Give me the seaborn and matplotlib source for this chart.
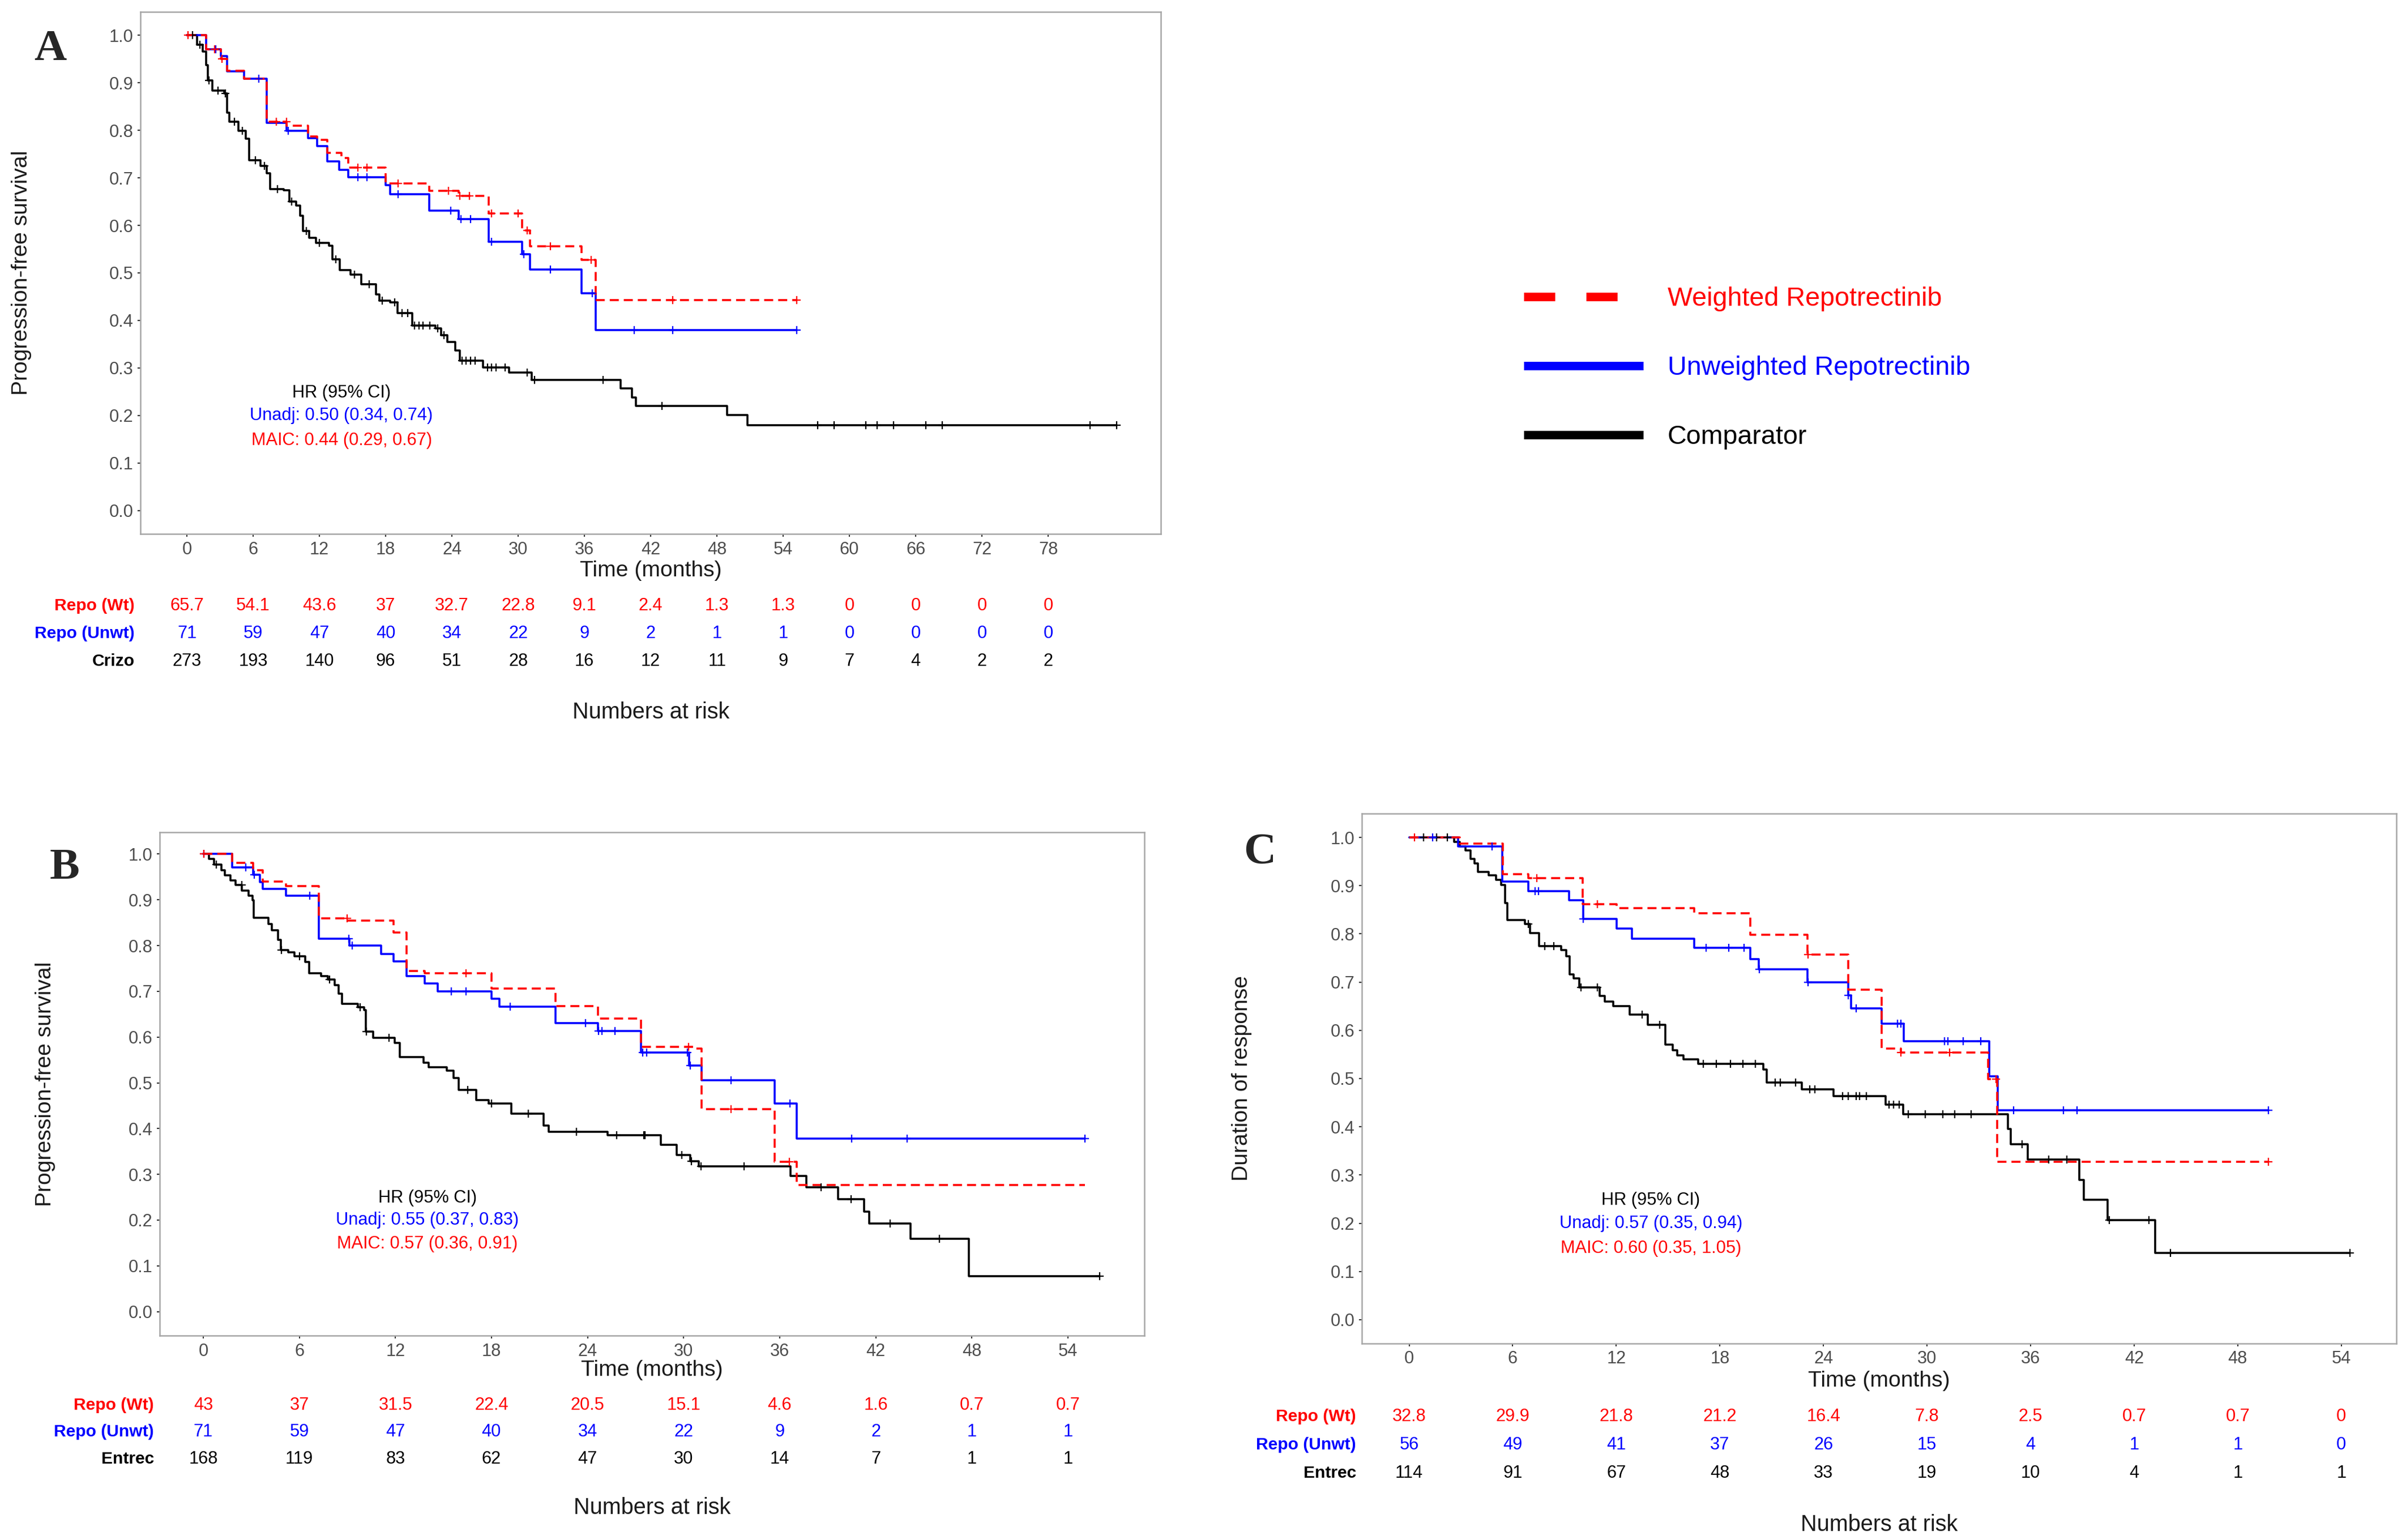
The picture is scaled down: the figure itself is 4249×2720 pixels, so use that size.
import numpy as np
import matplotlib
matplotlib.use("Agg")
import matplotlib.pyplot as plt
import matplotlib.transforms as mtransforms
from matplotlib.lines import Line2D
import seaborn as sns

# ---------------- DATA ----------------
# Panel A (PFS vs crizotinib)
tA_wt = [0, 1.74, 3.05, 3.63, 5.17, 7.23, 9.03, 10.99, 11.81, 12.69, 14.0, 14.62, 17.98, 21.94, 24.62, 27.33, 30.34, 31.09, 35.74, 37.04, 55.2]
sA_wt = [1.0, 0.970, 0.950, 0.925, 0.909, 0.818, 0.810, 0.787, 0.780, 0.752, 0.742, 0.721, 0.688, 0.673, 0.662, 0.625, 0.589, 0.556, 0.527, 0.443, 0.443]
cA_wt = [0.1, 2.5, 3.2, 8.1, 9.0, 15.5, 16.3, 19.1, 23.7, 24.7, 25.6, 27.6, 30.0, 30.8, 32.9, 36.6, 44.0, 55.2]

tA_unw = [0, 1.74, 3.05, 3.63, 5.17, 7.23, 9.03, 10.99, 11.81, 12.69, 13.77, 14.62, 17.98, 18.41, 21.94, 24.62, 27.33, 30.34, 31.09, 35.74, 37.04, 55.2]
sA_unw = [1.0, 0.970, 0.956, 0.924, 0.909, 0.815, 0.799, 0.783, 0.767, 0.734, 0.717, 0.701, 0.684, 0.666, 0.631, 0.613, 0.566, 0.539, 0.507, 0.457, 0.380, 0.380]
cA_unw = [2.6, 6.5, 9.2, 15.5, 16.3, 19.1, 23.9, 24.8, 25.7, 27.6, 30.5, 32.9, 36.7, 40.5, 44.0, 55.2]

tA_cmp = [0, 0.92, 1.41, 1.74, 1.90, 2.33, 3.37, 3.63, 3.86, 4.68, 5.34, 5.66, 6.64, 7.23, 7.56, 8.77, 9.26, 9.91, 10.24, 10.50,
          11.06, 11.71, 12.85, 13.18, 13.83, 14.81, 15.80, 17.10, 17.43, 18.41, 19.06, 20.40, 22.53, 23.0, 23.59, 24.3, 24.71,
          26.83, 29.18, 31.24, 39.3, 40.3, 40.66, 48.9, 50.78, 84.2]
sA_cmp = [1.0, 0.980, 0.965, 0.937, 0.905, 0.884, 0.878, 0.837, 0.818, 0.799, 0.782, 0.737, 0.725, 0.710, 0.676, 0.674, 0.650, 0.642, 0.620, 0.588,
          0.574, 0.563, 0.557, 0.529, 0.506, 0.497, 0.476, 0.455, 0.442, 0.438, 0.416, 0.389, 0.383, 0.369, 0.355, 0.337, 0.316,
          0.301, 0.290, 0.275, 0.257, 0.238, 0.220, 0.201, 0.180, 0.180]
cA_cmp = [0.5, 1.2, 2.0, 2.8, 3.5, 4.3, 5.0, 6.2, 7.0, 8.2, 9.5, 10.8, 12.0, 13.5, 15.2, 16.5, 17.7, 18.8, 19.5, 20.0, 20.6, 21.0,
          21.4, 22.0, 22.7, 23.3, 24.9, 25.3, 25.7, 26.1, 27.2, 27.6, 28.0, 28.8, 30.8, 31.5, 37.7, 43.0, 57.1, 58.6, 61.5, 62.5,
          64.0, 66.9, 68.4, 81.8, 84.2]

# Panel B (PFS vs entrectinib)
tB_wt = [0, 1.80, 3.11, 3.72, 5.18, 7.21, 9.02, 11.9, 12.69, 13.82, 18.0, 22.0, 24.65, 27.33, 30.78, 31.13, 35.7, 37.07, 55.07]
sB_wt = [1.0, 0.981, 0.965, 0.940, 0.930, 0.860, 0.854, 0.829, 0.745, 0.739, 0.706, 0.668, 0.640, 0.579, 0.575, 0.443, 0.327, 0.277, 0.277]
cB_wt = [0.05, 9.0, 16.4, 30.3, 32.96, 36.6]

tB_unw = [0, 1.80, 3.11, 3.54, 3.72, 5.18, 7.21, 9.13, 11.09, 11.9, 12.69, 13.82, 14.66, 18.0, 18.49, 21.99, 24.65, 27.33, 30.33, 31.12, 35.7, 37.07, 55.07]
sB_unw = [1.0, 0.971, 0.955, 0.939, 0.924, 0.909, 0.815, 0.800, 0.782, 0.766, 0.733, 0.717, 0.700, 0.684, 0.667, 0.630, 0.613, 0.566, 0.538, 0.506, 0.455, 0.378, 0.378]
cB_unw = [0.05, 2.64, 3.2, 6.65, 9.1, 9.3, 15.5, 16.4, 19.17, 23.86, 24.7, 24.9, 25.7, 27.43, 27.7, 30.23, 30.4, 32.96, 36.64, 40.5, 43.95, 55.07]

tB_cmp = [0, 0.34, 0.68, 1.13, 1.35, 1.69, 2.03, 2.41, 2.82, 3.09, 3.15, 4.06, 4.28, 4.67, 4.85, 5.30, 5.70, 6.38, 6.61, 7.37,
          7.78, 8.19, 8.46, 8.68, 9.65, 10.04, 10.15, 10.6, 11.95, 12.29, 13.75, 14.09, 15.22, 15.63, 15.94, 17.03, 17.81, 19.24,
          21.27, 21.58, 25.25, 28.56, 29.57, 30.43, 30.96, 36.67, 37.67, 39.64, 41.27, 41.6, 44.16, 47.81, 55.99]
sB_cmp = [1.0, 0.989, 0.977, 0.965, 0.954, 0.942, 0.932, 0.920, 0.909, 0.899, 0.861, 0.847, 0.833, 0.812, 0.790, 0.785, 0.777, 0.764, 0.739, 0.733,
          0.726, 0.714, 0.695, 0.673, 0.665, 0.659, 0.612, 0.598, 0.587, 0.556, 0.544, 0.534, 0.527, 0.511, 0.485, 0.462, 0.455, 0.433,
          0.407, 0.393, 0.385, 0.364, 0.342, 0.329, 0.318, 0.296, 0.272, 0.246, 0.219, 0.192, 0.159, 0.077, 0.077]
cB_cmp = [0.8, 2.4, 4.9, 6.0, 7.9, 9.8, 10.2, 11.6, 16.5, 18.0, 20.3, 23.3, 25.8, 27.53, 27.6, 29.9, 30.5, 31.1, 33.77, 38.6,
          40.46, 42.9, 45.96, 56.0]

# Panel C (DOR vs entrectinib)
tC_wt = [0, 2.93, 5.43, 6.9, 10.04, 12.03, 16.53, 19.77, 23.08, 25.42, 27.36, 28.5, 33.54, 34.05, 49.78]
sC_wt = [1.0, 0.987, 0.924, 0.916, 0.862, 0.853, 0.843, 0.798, 0.757, 0.684, 0.562, 0.554, 0.499, 0.328, 0.328]
cC_wt = [0.3, 7.4, 10.9, 23.1, 28.5, 31.3, 34.0, 49.78]

tC_unw = [0, 2.83, 5.40, 6.91, 9.25, 10.09, 12.03, 12.91, 16.53, 19.77, 20.25, 23.08, 25.42, 25.6, 27.36, 28.66, 33.61, 34.09, 49.78]
sC_unw = [1.0, 0.981, 0.908, 0.889, 0.870, 0.831, 0.811, 0.790, 0.771, 0.748, 0.726, 0.700, 0.672, 0.645, 0.614, 0.578, 0.505, 0.434, 0.434]
cC_unw = [1.36, 4.8, 7.3, 7.5, 10.1, 17.2, 18.5, 19.4, 20.3, 23.1, 25.43, 25.9, 28.3, 28.5, 31.0, 31.2, 32.1, 33.1, 35.0, 37.9, 38.7, 49.78]

tC_cmp = [0, 2.62, 2.93, 3.25, 3.56, 3.77, 3.98, 4.6, 5.02, 5.34, 5.55, 5.69, 6.70, 7.01, 7.53, 8.79, 9.10, 9.31, 9.52, 9.84,
          11.05, 11.34, 11.82, 12.76, 13.81, 14.85, 15.27, 15.52, 15.9, 16.74, 20.5, 20.71, 22.76, 24.58, 27.6, 28.63, 34.68, 34.86,
          35.85, 38.81, 39.09, 40.45, 43.2, 54.49]
sC_cmp = [1.0, 0.991, 0.981, 0.973, 0.956, 0.946, 0.929, 0.921, 0.912, 0.902, 0.864, 0.829, 0.820, 0.802, 0.775, 0.766, 0.754, 0.716, 0.708, 0.689,
          0.671, 0.660, 0.650, 0.633, 0.611, 0.570, 0.559, 0.548, 0.540, 0.530, 0.519, 0.492, 0.478, 0.464, 0.446, 0.426, 0.396, 0.364,
          0.332, 0.290, 0.249, 0.207, 0.139, 0.139]
cC_cmp = [0.84, 1.6, 2.2, 6.9, 7.85, 8.37, 9.94, 10.89, 13.5, 14.5, 17.05, 17.8, 18.62, 19.35, 20.07, 21.2, 21.5, 22.4, 23.2, 23.5,
          25.1, 25.43, 25.9, 26.1, 26.5, 27.8, 28.06, 28.4, 28.9, 29.9, 30.9, 31.6, 32.56, 35.5, 37.05, 38.1, 40.55, 42.85, 44.1, 54.5]

# Numbers at risk
ticksA = list(range(0, 79, 6))
riskA_wt = ["65.7", "54.1", "43.6", "37", "32.7", "22.8", "9.1", "2.4", "1.3", "1.3", "0", "0", "0", "0"]
riskA_unw = ["71", "59", "47", "40", "34", "22", "9", "2", "1", "1", "0", "0", "0", "0"]
riskA_cmp = ["273", "193", "140", "96", "51", "28", "16", "12", "11", "9", "7", "4", "2", "2"]

ticksB = list(range(0, 55, 6))
riskB_wt = ["43", "37", "31.5", "22.4", "20.5", "15.1", "4.6", "1.6", "0.7", "0.7"]
riskB_unw = ["71", "59", "47", "40", "34", "22", "9", "2", "1", "1"]
riskB_cmp = ["168", "119", "83", "62", "47", "30", "14", "7", "1", "1"]

ticksC = list(range(0, 55, 6))
riskC_wt = ["32.8", "29.9", "21.8", "21.2", "16.4", "7.8", "2.5", "0.7", "0.7", "0"]
riskC_unw = ["56", "49", "41", "37", "26", "15", "4", "1", "1", "0"]
riskC_cmp = ["114", "91", "67", "48", "33", "19", "10", "4", "1", "1"]

hrA = ["HR (95% CI)", "Unadj: 0.50 (0.34, 0.74)", "MAIC: 0.44 (0.29, 0.67)"]
hrB = ["HR (95% CI)", "Unadj: 0.55 (0.37, 0.83)", "MAIC: 0.57 (0.36, 0.91)"]
hrC = ["HR (95% CI)", "Unadj: 0.57 (0.35, 0.94)", "MAIC: 0.60 (0.35, 1.05)"]

legend_labels = ["Weighted Repotrectinib", "Unweighted Repotrectinib", "Comparator"]

# ---------------- STYLE ----------------
sns.set_theme(style="white")
plt.rcParams['font.family'] = ['Liberation Sans', 'DejaVu Sans']

W, H = 4249, 2720
fig = plt.figure(figsize=(W / 300, H / 300), dpi=300)
fig.patch.set_facecolor("white")

RED, BLUE, BLACK = "#FF0000", "#0000FF", "#000000"
GREY_TXT = "#4D4D4D"
SPINE = "#A6A6A6"


def fx(x):
    return x / W


def fy(y):
    return 1 - y / H


def step_at(t, s, c):
    t = np.asarray(t)
    s = np.asarray(s)
    idx = np.searchsorted(t, np.asarray(c), side="right") - 1
    return s[np.clip(idx, 0, len(s) - 1)]


def draw_panel(rect, xlim, ylim, xticks, curves, hr, ylabel, xlab_y, risk_rows, row_names,
               row_ys, label_right, nar_y, letter, letter_xy):
    ax = fig.add_axes(rect)
    ax.set_facecolor("white")
    for t, s, c, color, dashed in curves:
        kw = dict(color=color, lw=0.85, drawstyle="steps-post", estimator=None, ax=ax, zorder=2)
        if dashed:
            kw["linestyle"] = (0, (4.5, 2.5))
        sns.lineplot(x=t, y=s, **kw)
        sns.scatterplot(x=c, y=step_at(t, s, c), marker="+", s=10, color=color,
                        linewidth=0.55, ax=ax, zorder=3)
    ax.set_xlim(*xlim)
    ax.set_ylim(*ylim)
    ax.set_xticks(xticks)
    ax.set_xticklabels([str(v) for v in xticks])
    yt = np.round(np.arange(0, 1.01, 0.1), 1)
    ax.set_yticks(yt)
    ax.set_yticklabels([f"{v:.1f}" for v in yt])
    ax.tick_params(axis="both", which="both", bottom=True, left=True, length=1.2, width=0.5,
                   color="#333333", labelsize=7.4, labelcolor=GREY_TXT, pad=1.8, direction="out")
    for sp in ax.spines.values():
        sp.set_visible(True)
        sp.set_color(SPINE)
        sp.set_linewidth(0.6)
    ax.set_xlabel("Time (months)", fontsize=9.4, color="#1a1a1a")
    ax.xaxis.label.set_va("center")
    ax.xaxis.set_label_coords(0.5, xlab_y)
    ax.set_ylabel(ylabel, fontsize=9.4, color="#1a1a1a")
    ax.yaxis.label.set_va("center")
    ax.yaxis.set_label_coords(-0.1165, 0.5)

    # HR annotation
    for txt, yy, col in zip(hr, [0.248, 0.200, 0.148], [BLACK, BLUE, RED]):
        ax.text(14.0, yy, txt, ha="center", va="center", fontsize=7.4, color=col)

    # Risk table
    trans = mtransforms.blended_transform_factory(ax.transData, fig.transFigure)
    cols = [RED, BLUE, BLACK]
    for vals, name, yy, col in zip(risk_rows, row_names, row_ys, cols):
        for tx, v in zip(xticks, vals):
            ax.text(tx, fy(yy), v, transform=trans, ha="center", va="center",
                    fontsize=7.4, color=col, clip_on=False)
        fig.text(fx(label_right), fy(yy), name, ha="right", va="center", fontsize=7.2,
                 fontweight="bold", color=col)
    trans2 = mtransforms.blended_transform_factory(ax.transAxes, fig.transFigure)
    ax.text(0.5, fy(nar_y), "Numbers at risk", transform=trans2, ha="center", va="center",
            fontsize=9.5, color="#1a1a1a", clip_on=False)
    fig.text(fx(letter_xy[0]), fy(letter_xy[1]), letter, ha="center", va="center",
             fontsize=19, fontweight="bold", family=["Liberation Serif", "DejaVu Serif"])
    return ax


# Panel A
draw_panel([0.0584, 0.6533, 0.4241, 0.3390], (-4.2, 88.2), (-0.049, 1.049), ticksA,
           [(tA_cmp, sA_cmp, cA_cmp, BLACK, False),
            (tA_unw, sA_unw, cA_unw, BLUE, False),
            (tA_wt, sA_wt, cA_wt, RED, True)],
           hrA, "Progression-free survival", -0.0705,
           [riskA_wt, riskA_unw, riskA_cmp], ["Repo (Wt)", "Repo (Unwt)", "Crizo"],
           [1070, 1119, 1168], 238, 1258, "A", (89, 87))

# Panel B
draw_panel([0.06644, 0.1327, 0.40916, 0.3270], (-2.71, 58.77), (-0.0525, 1.048), ticksB,
           [(tB_cmp, sB_cmp, cB_cmp, BLACK, False),
            (tB_unw, sB_unw, cB_unw, BLUE, False),
            (tB_wt, sB_wt, cB_wt, RED, True)],
           hrB, "Progression-free survival", -0.0686,
           [riskB_wt, riskB_unw, riskB_cmp], ["Repo (Wt)", "Repo (Unwt)", "Entrec"],
           [2482, 2529, 2577], 272, 2663, "B", (114, 1534))

# Panel C
draw_panel([0.5661, 0.1276, 0.4299, 0.3441], (-2.73, 57.19), (-0.0493, 1.0494), ticksC,
           [(tC_cmp, sC_cmp, cC_cmp, BLACK, False),
            (tC_unw, sC_unw, cC_unw, BLUE, False),
            (tC_wt, sC_wt, cC_wt, RED, True)],
           hrC, "Duration of response", -0.0705,
           [riskC_wt, riskC_unw, riskC_cmp], ["Repo (Wt)", "Repo (Unwt)", "Entrec"],
           [2502, 2552, 2602], 2395, 2693, "C", (2225, 1507))

# Legend
handles = [Line2D([], [], color=RED, lw=3.6, dashes=(3.67, 3.67), dash_capstyle="butt"),
           Line2D([], [], color=BLUE, lw=3.6, solid_capstyle="butt"),
           Line2D([], [], color=BLACK, lw=3.6, solid_capstyle="butt")]
leg = fig.legend(handles, legend_labels, loc="center left", bbox_to_anchor=(fx(2691), fy(650)),
                 frameon=False, fontsize=11.2, handlelength=4.52, handletextpad=0.92,
                 labelspacing=1.675, borderpad=0, borderaxespad=0)
for txt, col in zip(leg.get_texts(), [RED, BLUE, BLACK]):
    txt.set_color(col)

fig.savefig("out.png", dpi=300, facecolor="white")
